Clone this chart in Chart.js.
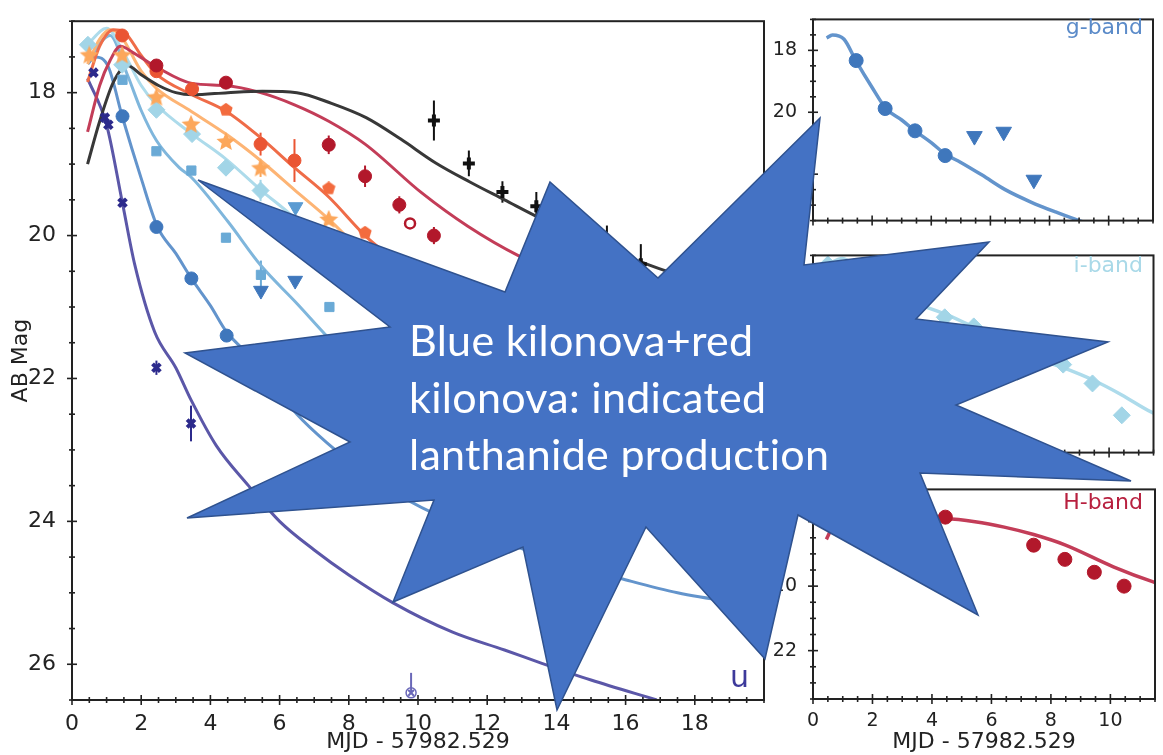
<!DOCTYPE html>
<html>
<head>
<meta charset="utf-8">
<script src="https://cdn.jsdelivr.net/npm/chart.js@4.4.0/dist/chart.umd.min.js"></script>
<style>
  html, body { margin: 0; padding: 0; background: #fff; }
  #wrap { position: relative; width: 1163px; height: 755px; overflow: hidden; background: #fff; }
  canvas { position: absolute; }
  .tag { position: absolute; font-family: "DejaVu Sans"; white-space: nowrap; }
  #burst { position: absolute; left: 0; top: 0; }
  #burstText { position: absolute; left: 409px; top: 311px; font-family: Lato, "Open Sans"; font-size: 43px;
               letter-spacing: 0.3px; line-height: 57px; color: #fff; white-space: nowrap;
               font-variant-ligatures: none; font-feature-settings: "liga" 0; }
</style>
</head>
<body>
<div id="wrap">
  <canvas id="main" width="775" height="755" style="left:0;top:0"></canvas>
  <canvas id="gpan" width="393" height="240" style="left:770px;top:0"></canvas>
  <canvas id="ipan" width="393" height="236" style="left:770px;top:236px"></canvas>
  <canvas id="hpan" width="393" height="285" style="left:770px;top:470px"></canvas>
  <div class="tag" style="left:730px;top:662px;font-size:30px;line-height:30px;color:#3d3a9b">u</div>
  <div class="tag" style="right:20px;top:16px;font-size:22px;line-height:22px;color:#5b8bc9">g-band</div>
  <div class="tag" style="right:20px;top:254px;font-size:22px;line-height:22px;color:#a9d9e8">i-band</div>
  <div class="tag" style="right:20px;top:491px;font-size:22px;line-height:22px;color:#b8203f">H-band</div>
  <svg id="burst" width="1163" height="755"></svg>
  <div id="burstText">Blue kilonova+red<br>kilonova: indicated<br>lanthanide production</div>
</div>
<script>
// photometry, days after MJD 57982.529, AB mag
const uDays = [0.62, 0.95, 1.05, 1.46, 2.44, 3.44];
const uMag  = [17.72, 18.35, 18.45, 19.54, 21.85, 22.63];
const uErr  = [0.04, 0.06, 0.06, 0.06, 0.1, 0.25];
const uLimDays = [9.8];
const uLimMag  = [26.4];
const uLimUp   = [0.28];

const gDays = [1.46, 2.44, 3.45, 4.47];
const gMag  = [18.33, 19.88, 20.6, 21.4];
const gLimDays = [5.46, 6.45, 7.47];
const gLimMag  = [20.77, 20.63, 22.18];

const rDays = [1.46, 2.44, 3.45, 4.45, 5.46, 7.44];
const rMag  = [17.82, 18.82, 19.09, 20.03, 20.55, 21.0];
const rErr  = [0, 0, 0, 0, 0.2, 0];
const rLimDays = [6.46];
const rLimMag  = [19.6];

const iDays = [0.46, 1.45, 2.44, 3.47, 4.45, 5.45, 8.45, 9.44, 10.43];
const iMag  = [17.33, 17.61, 18.24, 18.58, 19.05, 19.37, 20.6, 21.22, 22.27];
const iErr  = [0, 0, 0, 0, 0, 0.15, 0, 0, 0];
const iPanelDays = [0.5, 4.45, 5.43, 8.45, 9.44, 10.43];
const iPanelMag  = [17.3, 19.04, 19.34, 20.6, 21.22, 22.27];

const zDays = [0.5, 1.45, 2.44, 3.44, 4.45, 5.45, 7.42];
const zMag  = [17.48, 17.48, 18.07, 18.45, 18.69, 19.06, 19.78];
const zErr  = [0, 0, 0, 0, 0, 0.12, 0];

const yDays = [4.45, 7.42, 8.47, 9.71];
const yMag  = [18.24, 19.34, 19.96, 20.43];

const jDays = [1.45, 2.44, 3.47, 5.45, 6.43];
const jMag  = [17.2, 17.7, 17.95, 18.72, 18.95];
const jErr  = [0, 0, 0, 0.16, 0.3];

const hDays = [2.44, 4.45, 7.42, 8.47, 9.46, 10.46];
const hMag  = [17.62, 17.86, 18.73, 19.17, 19.57, 20.0];
const hErr  = [0, 0, 0.13, 0.15, 0.12, 0.12];
const hOpenDays = [9.77];
const hOpenMag  = [19.83];

const kDays = [10.46, 11.47, 12.44, 13.42, 14.45, 15.46, 16.44];
const kMag  = [18.39, 18.99, 19.39, 19.59, 19.75, 20.08, 20.4];
const kErr  = [0.28, 0.18, 0.15, 0.2, 0.2, 0.22, 0.28];

// model light curves
const uModelDays = [0.45, 1.0, 1.46, 1.81, 2.39, 3.0, 3.44, 4.17, 5.1, 6.0, 7.0, 8.0, 9.28, 11.0, 12.5, 13.6, 15.0, 16.9];
const uModelMag  = [17.8, 18.45, 19.55, 20.4, 21.35, 21.85, 22.3, 22.94, 23.5, 24.0, 24.4, 24.75, 25.14, 25.55, 25.8, 25.99, 26.22, 26.5];
const gModelDays = [0.46, 0.66, 1.05, 1.45, 2.0, 2.47, 3.0, 3.45, 4.0, 4.47, 5.0, 5.72, 6.5, 7.37, 8.2, 9.0, 10.5, 12.0, 14.0, 15.86, 17.5, 19.74];
const gModelMag  = [17.6, 17.5, 17.64, 18.33, 19.2, 19.88, 20.25, 20.6, 20.98, 21.35, 21.62, 22.03, 22.5, 22.9, 23.22, 23.5, 23.9, 24.2, 24.55, 24.8, 25.0, 25.18];
const rModelDays = [0.45, 1.1, 1.6, 2.0, 2.44, 3.1, 3.44, 4.5, 5.46, 6.5, 7.41, 8.5, 10.0, 12.0, 14.0];
const rModelMag  = [17.55, 17.2, 17.75, 18.25, 18.67, 19.05, 19.18, 19.8, 20.42, 20.95, 21.43, 21.95, 22.6, 23.3, 23.9];
const iModelDays = [0.44, 1.0, 1.5, 2.0, 2.44, 3.47, 4.45, 5.45, 6.46, 7.7, 8.45, 9.44, 10.43, 11.4, 13.0, 15.0];
const iModelMag  = [17.33, 17.1, 17.45, 17.9, 18.17, 18.58, 18.93, 19.36, 19.77, 20.44, 20.7, 21.1, 21.6, 22.15, 22.8, 23.5];
const zModelDays = [0.45, 0.8, 1.1, 1.4, 2.0, 2.44, 3.44, 4.45, 5.45, 6.43, 7.42, 8.3, 9.0, 10.5, 12.0];
const zModelMag  = [17.6, 17.25, 17.12, 17.2, 17.7, 17.94, 18.26, 18.58, 18.95, 19.36, 19.77, 20.19, 20.5, 21.1, 21.6];
const jModelDays = [0.45, 0.8, 1.2, 1.5, 2.0, 2.44, 3.47, 4.45, 5.45, 6.43, 7.42, 8.47, 9.37, 10.0, 12.0, 14.0];
const jModelMag  = [17.85, 17.35, 17.12, 17.15, 17.48, 17.74, 18.03, 18.26, 18.63, 19.05, 19.46, 20.0, 20.37, 20.65, 21.3, 21.8];
const hModelDays = [0.45, 0.8, 1.1, 1.4, 1.8, 2.44, 3.47, 4.45, 5.45, 6.43, 7.42, 8.47, 10.1, 11.44, 12.9, 14.5, 16.5, 19.9];
const hModelMag  = [18.55, 17.9, 17.55, 17.35, 17.45, 17.64, 17.87, 17.9, 18.0, 18.17, 18.4, 18.72, 19.4, 19.87, 20.28, 20.6, 20.9, 21.2];
const kModelDays = [0.45, 0.8, 1.2, 1.6, 2.0, 2.5, 3.0, 3.5, 4.5, 5.5, 6.5, 7.5, 8.5, 9.5, 10.5, 11.5, 12.5, 13.5, 14.5, 15.5, 16.5, 17.2, 18.5, 19.9];
const kModelMag  = [19.0, 18.4, 17.85, 17.62, 17.75, 17.9, 18.0, 18.03, 18.0, 17.98, 18.0, 18.15, 18.35, 18.65, 18.98, 19.25, 19.5, 19.75, 19.98, 20.2, 20.38, 20.5, 20.68, 20.85];

const mainXTicks = [0, 2, 4, 6, 8, 10, 12, 14, 16, 18];
const mainYTicks = [18, 20, 22, 24, 26];
const panelXTicks = [0, 2, 4, 6, 8, 10];
const panelYTicks = [18, 20, 22];

const xy = (xs, ys) => xs.map((x, i) => ({x: x, y: ys[i]}));

function marker(kind, size, color) {
  const c = document.createElement('canvas');
  c.width = c.height = size;
  const g = c.getContext('2d');
  const r = size / 2, n = kind === 'star' ? 10 : 5;
  g.fillStyle = color;
  g.beginPath();
  for (let k = 0; k < n; k++) {
    const a = -Math.PI / 2 + k * 2 * Math.PI / n;
    const rr = kind === 'star' && k % 2 ? r * 0.45 : r;
    g.lineTo(r + rr * Math.cos(a), r + rr * Math.sin(a));
  }
  g.closePath();
  g.fill();
  return c;
}

function pts(data, color, style, radius, extra) {
  return Object.assign({data: data, backgroundColor: color, borderColor: color, pointStyle: style,
    pointRadius: radius, pointBorderWidth: 1, showLine: false}, extra || {});
}
function curve(data, color, width) {
  return {data: data, borderColor: color, borderWidth: width, pointRadius: 0, showLine: true,
    cubicInterpolationMode: 'monotone', fill: false};
}

const decor = {
  id: 'decor',
  beforeDatasetsDraw(chart) {
    const ctx = chart.ctx, ys = chart.scales.y;
    chart.data.datasets.forEach((ds, i) => {
      if (!ds.errs && !ds.errsUp) return;
      const meta = chart.getDatasetMeta(i);
      ctx.save();
      ctx.strokeStyle = ds.borderColor;
      ctx.lineWidth = 2;
      ds.data.forEach((p, j) => {
        const e = ds.errs ? ds.errs[j] : 0, up = ds.errsUp ? ds.errsUp[j] : e;
        if (!e && !up) return;
        const x = meta.data[j].x;
        ctx.beginPath();
        ctx.moveTo(x, ys.getPixelForValue(p.y + e));
        ctx.lineTo(x, ys.getPixelForValue(p.y - up));
        ctx.stroke();
      });
      ctx.restore();
    });
  },
  afterDraw(chart) {
    const o = chart.options.plugins.decor;
    const {ctx, chartArea: a} = chart;
    const xs = chart.scales.x, ys = chart.scales.y;
    ctx.save();
    ctx.strokeStyle = '#222';
    ctx.lineWidth = 2;
    ctx.strokeRect(a.left, a.top, a.right - a.left, a.bottom - a.top);
    ctx.lineWidth = 1.6;
    const isMajor = (list, v) => list.some(m => Math.abs(m - v) < 1e-6);
    for (let k = Math.ceil(xs.min / 0.5); k * 0.5 <= xs.max + 1e-9; k++) {
      const v = k * 0.5, len = isMajor(o.xMajor, v) ? o.major : o.minor, px = xs.getPixelForValue(v);
      ctx.beginPath(); ctx.moveTo(px, a.bottom - len); ctx.lineTo(px, a.bottom + len); ctx.stroke();
    }
    for (let k = Math.ceil(ys.min / 0.5); k * 0.5 <= ys.max + 1e-9; k++) {
      const v = k * 0.5, len = isMajor(o.yMajor, v) ? o.major : o.minor, py = ys.getPixelForValue(v);
      ctx.beginPath(); ctx.moveTo(a.left - len, py); ctx.lineTo(a.left + len, py); ctx.stroke();
    }
    ctx.restore();
  }
};

function axes(xr, yr, xt, yt, yWidth, xHeight, fontSize, showXLabels, xTitle, yTitle) {
  const font = {family: 'DejaVu Sans', size: fontSize};
  return {
    x: {type: 'linear', min: xr[0], max: xr[1],
        afterBuildTicks: s => { s.ticks = xt.map(v => ({value: v})); },
        afterFit: s => { s.height = xHeight; },
        grid: {display: false}, border: {display: false},
        ticks: {display: showXLabels, font: font, color: '#222', padding: 3, maxRotation: 0},
        title: {display: !!xTitle, text: xTitle, font: {family: 'DejaVu Sans', size: 22}, color: '#222',
                padding: {top: 0, bottom: 0}}},
    y: {type: 'linear', reverse: true, min: yr[0], max: yr[1],
        afterBuildTicks: s => { s.ticks = yt.map(v => ({value: v})); },
        afterFit: s => { s.width = yWidth; },
        grid: {display: false}, border: {display: false},
        ticks: {font: font, color: '#222', padding: 8},
        title: {display: !!yTitle, text: yTitle, font: {family: 'DejaVu Sans', size: 22}, color: '#222',
                padding: {top: 8, bottom: 0}}}
  };
}

function makeChart(id, datasets, scales, padding, majorLen, xt, yt) {
  return new Chart(document.getElementById(id), {
    type: 'scatter',
    data: {datasets: datasets},
    options: {
      responsive: false, animation: false, devicePixelRatio: 1,
      layout: {padding: padding},
      scales: scales,
      plugins: {legend: {display: false}, tooltip: {enabled: false},
                decor: {major: majorLen, minor: 3, xMajor: xt, yMajor: yt}}
    },
    plugins: [decor]
  });
}

const C = {
  u: '#2c2a8c', uL: '#5b57a8', g: '#3f77bc', gL: '#6394cc', r: '#6aaad6', rL: '#7fb6dc', rLim: '#5a9bd2',
  i: '#a2d5e7', iL: '#addbeb', z: '#fca75b', zL: '#fdb474', y: '#f36b3e', j: '#ea5533', jL: '#ef6c48',
  h: '#b2182b', hL: '#c33d58', k: '#111111', kL: '#383838'
};

const starM = marker('star', 20, C.z);
const pentM = marker('pent', 14, C.y);

makeChart('main', [
  pts(xy(kDays, kMag), C.k, 'cross', 6, {pointBorderWidth: 4, errs: kErr}),
  pts(xy(hDays, hMag), C.h, 'circle', 6.5, {errs: hErr}),
  pts(xy(hOpenDays, hOpenMag), C.h, 'circle', 5, {backgroundColor: '#fff', pointBorderWidth: 2.5}),
  pts(xy(jDays, jMag), C.j, 'circle', 6.5, {errs: jErr}),
  pts(xy(yDays, yMag), C.y, pentM, 7),
  pts(xy(zDays, zMag), C.z, starM, 10, {errs: zErr}),
  pts(xy(iDays, iMag), C.i, 'rectRot', 8.5, {errs: iErr}),
  pts(xy(rDays, rMag), C.r, 'rect', 6.5, {errs: rErr}),
  pts(xy(rLimDays, rLimMag), C.rLim, 'triangle', 8.5, {rotation: 180}),
  pts(xy(gLimDays, gLimMag), C.g, 'triangle', 8.5, {rotation: 180}),
  pts(xy(gDays, gMag), C.g, 'circle', 6.5),
  pts(xy(uDays, uMag), C.u, 'crossRot', 5.5, {pointBorderWidth: 4, errs: uErr}),
  pts(xy(uLimDays, uLimMag), '#6a68b8', 'crossRot', 4, {pointBorderWidth: 2, errsUp: uLimUp, errs: [0]}),
  pts(xy(uLimDays, uLimMag), '#6a68b8', 'circle', 5, {backgroundColor: 'rgba(0,0,0,0)', pointBorderWidth: 1.5}),
  curve(xy(kModelDays, kModelMag), C.kL, 3),
  curve(xy(hModelDays, hModelMag), C.hL, 3),
  curve(xy(jModelDays, jModelMag), C.jL, 3),
  curve(xy(zModelDays, zModelMag), C.zL, 3),
  curve(xy(iModelDays, iModelMag), C.iL, 3),
  curve(xy(rModelDays, rModelMag), C.rL, 3),
  curve(xy(gModelDays, gModelMag), C.gL, 3),
  curve(xy(uModelDays, uModelMag), C.uL, 3)
], axes([0, 20], [17, 26.5], mainXTicks, mainYTicks, 72, 55, 22, true, 'MJD - 57982.529', 'AB Mag'),
  {left: 0, top: 8, right: 7, bottom: 0}, 5, mainXTicks, mainYTicks);

makeChart('gpan', [
  pts(xy(gDays, gMag), C.g, 'circle', 7),
  pts(xy(gLimDays, gLimMag), C.g, 'triangle', 9, {rotation: 180}),
  curve(xy(gModelDays, gModelMag), C.gL, 3.5)
], axes([0, 11.5], [17, 23.5], panelXTicks, panelYTicks, 43, 13, 19, false, '', ''),
  {left: 0, top: 8, right: 1, bottom: 0}, 5, panelXTicks, panelYTicks);

makeChart('ipan', [
  pts(xy(iPanelDays, iPanelMag), C.i, 'rectRot', 8.5),
  curve(xy(iModelDays, iModelMag), C.iL, 3.5)
], axes([0, 11.5], [17, 23.5], panelXTicks, panelYTicks, 43, 10, 19, false, '', ''),
  {left: 0, top: 9, right: 1, bottom: 0}, 5, panelXTicks, panelYTicks);

makeChart('hpan', [
  pts(xy(hDays, hMag), C.h, 'circle', 7),
  curve(xy(hModelDays, hModelMag), C.hL, 3.5)
], axes([0, 11.5], [17, 23.5], panelXTicks, panelYTicks, 43, 56, 19, true, 'MJD - 57982.529', ''),
  {left: 0, top: 12, right: 1, bottom: 0}, 5, panelXTicks, panelYTicks);

// callout shape
const burstPoints = [[198,180],[505,292],[550,182],[658,278],[820,118],[804,265],[989,242],[916,319],
  [1108,342],[956,405],[1131,481],[920,473],[978,615],[798,515],[765,659],[646,527],[557,710],
  [523,547],[393,602],[434,500],[187,518],[350,442],[185,353],[390,327]];
const svg = document.getElementById('burst');
const poly = document.createElementNS('http://www.w3.org/2000/svg', 'polygon');
poly.setAttribute('points', burstPoints.map(p => p.join(',')).join(' '));
poly.setAttribute('fill', '#4472c4');
poly.setAttribute('stroke', '#2f528f');
poly.setAttribute('stroke-width', '1.5');
svg.appendChild(poly);
</script>
</body>
</html>
